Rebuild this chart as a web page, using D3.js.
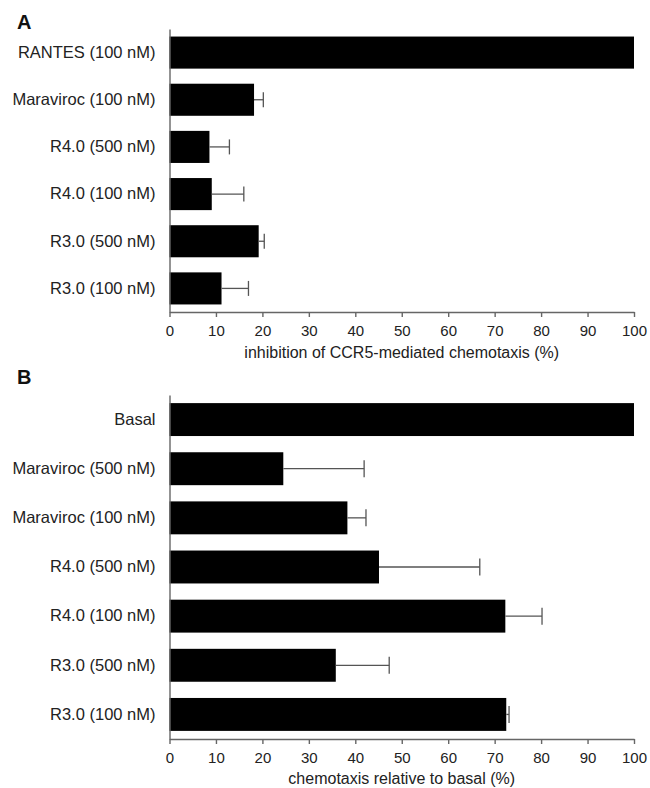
<!DOCTYPE html>
<html>
<head>
<meta charset="utf-8">
<script src="https://cdn.jsdelivr.net/npm/d3@7"></script>
<style>
  body { margin: 0; background: #fff; }
  svg { display: block; font-family: "Liberation Sans", Arial, sans-serif; }
</style>
</head>
<body>
<div id="chart"></div>
<script>
// panel A: inhibition of CCR5-mediated chemotaxis
const catsA = ['RANTES (100 nM)', 'Maraviroc (100 nM)', 'R4.0 (500 nM)', 'R4.0 (100 nM)', 'R3.0 (500 nM)', 'R3.0 (100 nM)'];
const valsA = [100, 18.2, 8.6, 9.1, 19.2, 11.2];
const errsA = [0, 2.0, 4.3, 6.9, 1.2, 5.8];

// panel B: chemotaxis relative to basal
const catsB = ['Basal', 'Maraviroc (500 nM)', 'Maraviroc (100 nM)', 'R4.0 (500 nM)', 'R4.0 (100 nM)', 'R3.0 (500 nM)', 'R3.0 (100 nM)'];
const valsB = [100, 24.5, 38.3, 45.1, 72.3, 35.8, 72.5];
const errsB = [0, 17.4, 4.0, 21.7, 7.9, 11.5, 0.6];

const ticksX = [0, 10, 20, 30, 40, 50, 60, 70, 80, 90, 100];

const width = 650, height = 788;
const svg = d3.select('#chart').append('svg')
  .attr('width', width)
  .attr('height', height);

function drawPanel(cfg) {
  const g = svg.append('g');

  const x = d3.scaleLinear().domain([0, 100]).range([169.5, 634]);
  const y = d3.scaleBand().domain(cfg.cats).range(cfg.yRange)
    .paddingInner(cfg.padIn).paddingOuter(cfg.padIn / 2);

  const rows = cfg.cats.map((c, i) => ({ cat: c, v: cfg.vals[i], e: cfg.errs[i] }));

  // bars
  g.selectAll('.bar')
    .data(rows)
    .join('rect')
    .attr('class', 'bar')
    .attr('x', x(0))
    .attr('y', d => y(d.cat))
    .attr('width', d => x(d.v) - x(0))
    .attr('height', y.bandwidth())
    .attr('fill', '#000');

  // error bars (one-sided)
  const err = g.selectAll('.err')
    .data(rows.filter(d => d.e > 0))
    .join('g')
    .attr('class', 'err')
    .attr('stroke', '#555')
    .attr('stroke-width', 1.3);
  err.append('line')
    .attr('x1', d => x(d.v)).attr('x2', d => x(d.v + d.e))
    .attr('y1', d => y(d.cat) + y.bandwidth() / 2)
    .attr('y2', d => y(d.cat) + y.bandwidth() / 2);
  err.append('line')
    .attr('x1', d => x(d.v + d.e)).attr('x2', d => x(d.v + d.e))
    .attr('y1', d => y(d.cat) + y.bandwidth() / 2 - cfg.cap / 2)
    .attr('y2', d => y(d.cat) + y.bandwidth() / 2 + cfg.cap / 2);

  // axes
  const axisX = g.append('g')
    .attr('transform', `translate(0,${cfg.yRange[1]})`)
    .call(d3.axisBottom(x).tickValues(ticksX).tickSize(5).tickSizeOuter(0).tickPadding(8));
  axisX.selectAll('text').attr('font-size', 15).attr('fill', '#222')
    .style('font-family', '"Liberation Sans", Arial, sans-serif');

  const axisY = g.append('g')
    .attr('transform', `translate(${x(0)},0)`)
    .call(d3.axisLeft(y).tickSize(0).tickSizeOuter(0).tickPadding(14));
  axisY.selectAll('text').attr('font-size', 16.5).attr('fill', '#222')
    .style('font-family', '"Liberation Sans", Arial, sans-serif');

  g.selectAll('.domain, .tick line')
    .attr('stroke', '#666')
    .attr('stroke-width', 1.4);

  g.append('text')
    .attr('x', (x(0) + x(100)) / 2)
    .attr('y', cfg.titleY)
    .attr('text-anchor', 'middle')
    .attr('font-size', 16)
    .attr('fill', '#222')
    .text(cfg.title);

  g.append('text')
    .attr('x', 17)
    .attr('y', cfg.letterY)
    .attr('font-size', 20)
    .attr('font-weight', 'bold')
    .attr('fill', '#111')
    .text(cfg.letter);
}

drawPanel({
  cats: catsA, vals: valsA, errs: errsA,
  yRange: [29, 312], padIn: 0.32, cap: 15,
  title: 'inhibition of CCR5-mediated chemotaxis (%)', titleY: 358,
  letter: 'A', letterY: 29
});

drawPanel({
  cats: catsB, vals: valsB, errs: errsB,
  yRange: [395, 739], padIn: 0.33, cap: 17,
  title: 'chemotaxis relative to basal (%)', titleY: 784,
  letter: 'B', letterY: 384
});
</script>
</body>
</html>
